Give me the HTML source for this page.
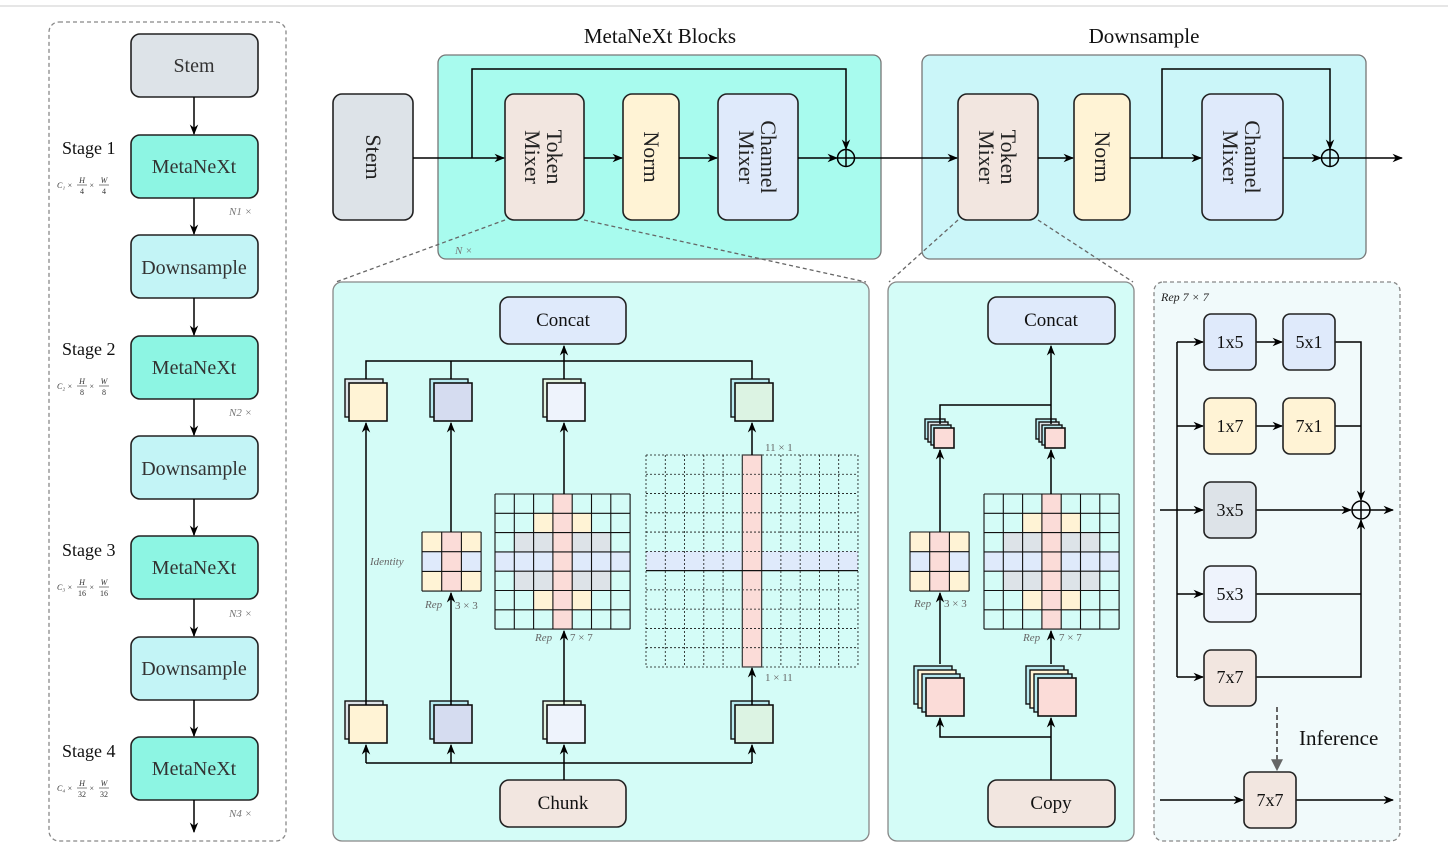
<!DOCTYPE html>
<html><head><meta charset="utf-8"><style>
html,body{margin:0;padding:0;background:#fff;}
svg{display:block;font-family:"Liberation Serif",serif;}
</style></head><body>
<svg id="s" width="1448" height="864" viewBox="0 0 1448 864" xmlns="http://www.w3.org/2000/svg">
<defs>
<marker id="a" viewBox="0 0 10 10" refX="9" refY="5" markerWidth="7" markerHeight="7" orient="auto-start-reverse"><path d="M0,1 L10,5 L0,9 L3,5 z" fill="#000"/></marker>
<marker id="g" viewBox="0 0 10 10" refX="9" refY="5" markerWidth="6" markerHeight="6" orient="auto"><path d="M0,0 L10,5 L0,10 z" fill="#666"/></marker>
</defs>
<line x1="0" y1="6" x2="1448" y2="6" stroke="#ccc"/>
<rect x="49" y="22" width="237" height="819" rx="10" stroke="#888" stroke-width="1.3" stroke-dasharray="4,3" fill="none"/>
<g stroke="#222" stroke-width="1.6">
<rect x="131" y="34" width="127" height="63" rx="9" fill="#dde3e8"/>
<rect x="131" y="135" width="127" height="63" rx="9" fill="#8df5e3"/>
<rect x="131" y="235" width="127" height="63" rx="9" fill="#c3f4f6"/>
<rect x="131" y="336" width="127" height="63" rx="9" fill="#8df5e3"/>
<rect x="131" y="436" width="127" height="63" rx="9" fill="#c3f4f6"/>
<rect x="131" y="536" width="127" height="63" rx="9" fill="#8df5e3"/>
<rect x="131" y="637" width="127" height="63" rx="9" fill="#c3f4f6"/>
<rect x="131" y="737" width="127" height="63" rx="9" fill="#8df5e3"/>
</g>
<g stroke="#000" stroke-width="1.5" marker-end="url(#a)">
<line x1="194" y1="97" x2="194" y2="134"/><line x1="194" y1="198" x2="194" y2="234"/>
<line x1="194" y1="298" x2="194" y2="335"/><line x1="194" y1="399" x2="194" y2="435"/>
<line x1="194" y1="499" x2="194" y2="535"/><line x1="194" y1="599" x2="194" y2="636"/>
<line x1="194" y1="700" x2="194" y2="736"/><line x1="194" y1="800" x2="194" y2="832"/>
</g>
<g font-size="20" text-anchor="middle" fill="#333">
<text x="194" y="72">Stem</text>
<text x="194" y="173">MetaNeXt</text><text x="194" y="274">Downsample</text>
<text x="194" y="374">MetaNeXt</text><text x="194" y="475">Downsample</text>
<text x="194" y="574">MetaNeXt</text><text x="194" y="675">Downsample</text>
<text x="194" y="775">MetaNeXt</text>
</g>
<g font-size="18" fill="#111">
<text x="62" y="154">Stage 1</text><text x="62" y="355">Stage 2</text>
<text x="62" y="556">Stage 3</text><text x="62" y="757">Stage 4</text>
</g>
<g id="formulas" font-size="8" fill="#333" font-style="italic"></g>
<g font-size="11" fill="#777" font-style="italic">
<text x="229" y="215">N1 ×</text><text x="229" y="416">N2 ×</text>
<text x="229" y="617">N3 ×</text><text x="229" y="817">N4 ×</text>
</g>

<text x="660" y="43" font-size="21" text-anchor="middle" fill="#111">MetaNeXt Blocks</text>
<text x="1144" y="43" font-size="21" text-anchor="middle" fill="#111">Downsample</text>
<rect x="438" y="55" width="443" height="204" rx="8" fill="#a8fbee" stroke="#777" stroke-width="1.3"/>
<rect x="922" y="55" width="444" height="204" rx="8" fill="#cbf6f9" stroke="#777" stroke-width="1.3"/>
<g stroke="#222" stroke-width="1.6">
<rect x="333" y="94" width="80" height="126" rx="9" fill="#dde3e8"/>
<rect x="505" y="94" width="79" height="126" rx="9" fill="#f2e6e0"/>
<rect x="623" y="94" width="56" height="126" rx="9" fill="#fff3d5"/>
<rect x="718" y="94" width="80" height="126" rx="9" fill="#dfeafb"/>
<rect x="958" y="94" width="80" height="126" rx="9" fill="#f2e6e0"/>
<rect x="1074" y="94" width="56" height="126" rx="9" fill="#fff3d5"/>
<rect x="1202" y="94" width="81" height="126" rx="9" fill="#dfeafb"/>
</g>
<g font-size="22" fill="#222" text-anchor="middle">
<text transform="translate(373,157) rotate(90)" y="7">Stem</text>
<text transform="translate(544,157) rotate(90)" y="-3">Token</text>
<text transform="translate(544,157) rotate(90)" y="19">Mixer</text>
<text transform="translate(651,157) rotate(90)" y="7">Norm</text>
<text transform="translate(758,157) rotate(90)" y="-3">Channel</text>
<text transform="translate(758,157) rotate(90)" y="19">Mixer</text>
<text transform="translate(998,157) rotate(90)" y="-3">Token</text>
<text transform="translate(998,157) rotate(90)" y="19">Mixer</text>
<text transform="translate(1102,157) rotate(90)" y="7">Norm</text>
<text transform="translate(1242,157) rotate(90)" y="-3">Channel</text>
<text transform="translate(1242,157) rotate(90)" y="19">Mixer</text>
</g>
<g stroke="#000" stroke-width="1.5" fill="none">
<line x1="413" y1="158" x2="504" y2="158" marker-end="url(#a)"/>
<polyline points="472,158 472,69 846,69 846,149" marker-end="url(#a)"/>
<line x1="584" y1="158" x2="622" y2="158" marker-end="url(#a)"/>
<line x1="679" y1="158" x2="717" y2="158" marker-end="url(#a)"/>
<line x1="798" y1="158" x2="837" y2="158" marker-end="url(#a)"/>
<circle cx="846" cy="158" r="8.5"/><line x1="837.5" y1="158" x2="854.5" y2="158"/><line x1="846" y1="149.5" x2="846" y2="166.5"/>
<line x1="855" y1="158" x2="957" y2="158" marker-end="url(#a)"/>
<line x1="1038" y1="158" x2="1073" y2="158" marker-end="url(#a)"/>
<line x1="1130" y1="158" x2="1201" y2="158" marker-end="url(#a)"/>
<polyline points="1162,158 1162,69 1330,69 1330,149" marker-end="url(#a)"/>
<line x1="1283" y1="158" x2="1321" y2="158" marker-end="url(#a)"/>
<circle cx="1330" cy="158" r="8.5"/><line x1="1321.5" y1="158" x2="1338.5" y2="158"/><line x1="1330" y1="149.5" x2="1330" y2="166.5"/>
<line x1="1339" y1="158" x2="1402" y2="158" marker-end="url(#a)"/>
</g>
<text x="455" y="254" font-size="11" fill="#777" font-style="italic">N ×</text>
<g stroke="#666" stroke-width="1.3" stroke-dasharray="4,3">
<line x1="505" y1="220" x2="336" y2="282"/><line x1="584" y1="220" x2="866" y2="282"/>
<line x1="958" y1="220" x2="889" y2="282"/><line x1="1038" y1="220" x2="1133" y2="282"/>
</g>

<rect x="333" y="282" width="536" height="559" rx="9" fill="#d4fcf7" stroke="#888" stroke-width="1.3"/>
<rect x="888" y="282" width="246" height="559" rx="9" fill="#d4fcf7" stroke="#888" stroke-width="1.3"/>
<rect x="1154" y="282" width="246" height="559" rx="9" fill="#f1fafb" stroke="#888" stroke-width="1.3" stroke-dasharray="4,3"/>
<g stroke="#222" stroke-width="1.6">
<rect x="500" y="297" width="126" height="47" rx="9" fill="#dfeafb"/>
<rect x="500" y="780" width="126" height="47" rx="9" fill="#f2e6e0"/>
<rect x="988" y="297" width="127" height="47" rx="9" fill="#dfeafb"/>
<rect x="988" y="780" width="127" height="47" rx="9" fill="#f2e6e0"/>
</g>
<g font-size="19" fill="#111" text-anchor="middle">
<text x="563" y="326">Concat</text><text x="563" y="809">Chunk</text>
<text x="1051" y="326">Concat</text><text x="1051" y="809">Copy</text>
</g>
<g id="dyn"></g>
<g stroke="#000" stroke-width="1.5" fill="none">
<polyline points="366,379 366,361 752,361 752,379"/><line x1="451" y1="361" x2="451" y2="379"/>
<line x1="564" y1="379" x2="564" y2="346" marker-end="url(#a)"/>
<line x1="366" y1="705" x2="366" y2="423" marker-end="url(#a)"/>
<line x1="451" y1="532" x2="451" y2="423" marker-end="url(#a)"/>
<line x1="451" y1="705" x2="451" y2="593" marker-end="url(#a)"/>
<line x1="564" y1="494" x2="564" y2="423" marker-end="url(#a)"/>
<line x1="564" y1="705" x2="564" y2="631" marker-end="url(#a)"/>
<line x1="752" y1="455" x2="752" y2="423" marker-end="url(#a)"/>
<line x1="752" y1="705" x2="752" y2="668" marker-end="url(#a)"/>
<line x1="564" y1="780" x2="564" y2="763"/>
<polyline points="366,763 752,763"/>
<line x1="366" y1="763" x2="366" y2="745" marker-end="url(#a)"/>
<line x1="451" y1="763" x2="451" y2="745" marker-end="url(#a)"/>
<line x1="564" y1="763" x2="564" y2="745" marker-end="url(#a)"/>
<line x1="752" y1="763" x2="752" y2="745" marker-end="url(#a)"/>
<polyline points="940,424 940,405 1051,405"/>
<line x1="1051" y1="424" x2="1051" y2="346" marker-end="url(#a)"/>
<line x1="940" y1="532" x2="940" y2="450" marker-end="url(#a)"/>
<line x1="1051" y1="494" x2="1051" y2="450" marker-end="url(#a)"/>
<line x1="940" y1="664" x2="940" y2="593" marker-end="url(#a)"/>
<line x1="1051" y1="664" x2="1051" y2="631" marker-end="url(#a)"/>
<line x1="1051" y1="780" x2="1051" y2="718" marker-end="url(#a)"/>
<polyline points="1051,737 940,737 940,718" marker-end="url(#a)"/>
<line x1="1160" y1="510" x2="1203" y2="510" marker-end="url(#a)"/>
<line x1="1177" y1="342" x2="1177" y2="677"/>
<line x1="1177" y1="342" x2="1203" y2="342" marker-end="url(#a)"/>
<line x1="1177" y1="426" x2="1203" y2="426" marker-end="url(#a)"/>
<line x1="1177" y1="594" x2="1203" y2="594" marker-end="url(#a)"/>
<line x1="1177" y1="677" x2="1203" y2="677" marker-end="url(#a)"/>
<line x1="1256" y1="342" x2="1282" y2="342" marker-end="url(#a)"/>
<line x1="1256" y1="426" x2="1282" y2="426" marker-end="url(#a)"/>
<polyline points="1335,342 1361,342 1361,500" marker-end="url(#a)"/>
<line x1="1335" y1="426" x2="1361" y2="426"/>
<line x1="1256" y1="510" x2="1351" y2="510" marker-end="url(#a)"/>
<polyline points="1256,677 1361,677 1361,520" marker-end="url(#a)"/>
<line x1="1256" y1="594" x2="1361" y2="594"/>
<circle cx="1361" cy="510" r="9"/><line x1="1352" y1="510" x2="1370" y2="510"/><line x1="1361" y1="501" x2="1361" y2="519"/>
<line x1="1370" y1="510" x2="1393" y2="510" marker-end="url(#a)"/>
<line x1="1160" y1="800" x2="1243" y2="800" marker-end="url(#a)"/>
<line x1="1296" y1="800" x2="1393" y2="800" marker-end="url(#a)"/>
</g>
<line x1="1277" y1="707" x2="1277" y2="770" stroke="#666" stroke-width="2" stroke-dasharray="5,3" marker-end="url(#g)"/>
<g stroke="#222" stroke-width="1.6">
<rect x="1204" y="314" width="52" height="56" rx="7" fill="#dfeafb"/>
<rect x="1283" y="314" width="52" height="56" rx="7" fill="#dfeafb"/>
<rect x="1204" y="398" width="52" height="56" rx="7" fill="#fff3d5"/>
<rect x="1283" y="398" width="52" height="56" rx="7" fill="#fff3d5"/>
<rect x="1204" y="482" width="52" height="56" rx="7" fill="#dde3e8"/>
<rect x="1204" y="566" width="52" height="56" rx="7" fill="#eef3fc"/>
<rect x="1204" y="650" width="52" height="56" rx="7" fill="#f2e6e0"/>
<rect x="1244" y="772" width="52" height="56" rx="7" fill="#f2e6e0"/>
</g>
<g font-size="18" fill="#111" text-anchor="middle">
<text x="1230" y="348">1x5</text><text x="1309" y="348">5x1</text>
<text x="1230" y="432">1x7</text><text x="1309" y="432">7x1</text>
<text x="1230" y="516">3x5</text><text x="1230" y="600">5x3</text>
<text x="1230" y="683">7x7</text><text x="1270" y="806">7x7</text>
</g>
<text x="1299" y="745" font-size="21" fill="#111">Inference</text>
<text x="1161" y="301" font-size="12" fill="#222" font-style="italic">Rep 7 × 7</text>
<g font-size="11" fill="#666" font-style="italic">
<text x="370" y="565">Identity</text>
<text x="425" y="608">Rep</text><text x="535" y="641">Rep</text>
<text x="914" y="607">Rep</text><text x="1023" y="641">Rep</text>
</g>
<g font-size="11" fill="#666">
<text x="455" y="609">3 × 3</text><text x="570" y="641">7 × 7</text>
<text x="944" y="607">3 × 3</text><text x="1059" y="641">7 × 7</text>
<text x="765" y="451">11 × 1</text><text x="765" y="681">1 × 11</text>
</g>
</svg>
<script>
var NS="http://www.w3.org/2000/svg",d=document.getElementById("dyn");
function el(t,a,p){var e=document.createElementNS(NS,t);for(var k in a)e.setAttribute(k,a[k]);(p||d).appendChild(e);return e;}
function stack(x,y,s,n,off,backs,front){
 for(var i=n;i>=1;i--)el("rect",{x:x-i*off,y:y-i*off,width:s,height:s,fill:backs[(i-1)%backs.length],stroke:"#111","stroke-width":1.4});
 el("rect",{x:x,y:y,width:s,height:s,fill:front,stroke:"#111","stroke-width":1.6});
}
stack(349,383,38,1,4,["#dde3e8"],"#fff3d5");
stack(434,383,38,1,4,["#b8eaf0"],"#d5dcf0");
stack(547,383,38,1,4,["#e3f3e0"],"#eef3fc");
stack(735,383,38,1,4,["#b8eaf0"],"#dcf3e3");
stack(349,705,38,1,4,["#dde3e8"],"#fff3d5");
stack(434,705,38,1,4,["#b8eaf0"],"#d5dcf0");
stack(547,705,38,1,4,["#e3f3e0"],"#eef3fc");
stack(735,705,38,1,4,["#b8eaf0"],"#dcf3e3");
stack(934,428,20,3,3,["#b8eaf0","#dde3e8","#b8eaf0"],"#fbdcd8");
stack(1045,428,20,3,3,["#b8eaf0","#dde3e8","#b8eaf0"],"#fbdcd8");
stack(926,678,38,3,4,["#b8eaf0","#fff3d5","#b8eaf0"],"#fbdcd8");
stack(1038,678,38,3,4,["#b8eaf0","#fff3d5","#b8eaf0"],"#fbdcd8");
var P="#fbdcd8",B="#dfeafb",Y="#fff3d5",G="#dde3e8";
function grid(x,y,n,c,colf,dash){
 for(var r=0;r<n;r++)for(var k=0;k<n;k++){var f=colf(r,k);if(f)el("rect",{x:x+k*c,y:y+r*c,width:c,height:c,fill:f});}
 for(var i=0;i<=n;i++){
  var a={stroke:"#111","stroke-width":dash?0.8:1.1};if(dash)a["stroke-dasharray"]="2,2";
  el("line",Object.assign({x1:x+i*c,y1:y,x2:x+i*c,y2:y+n*c},a));
  el("line",Object.assign({x1:x,y1:y+i*c,x2:x+n*c,y2:y+i*c},a));
 }
}
function g3(r,k){if(k==1)return P;if(r==1)return B;return Y;}
function g7(r,k){if(k==3)return P;if(r==3)return B;if((r==2||r==4)&&k>=1&&k<=5)return G;if((r==1||r==5)&&(k==2||k==4))return Y;return null;}
grid(422,532,3,19.7,g3,false);grid(910,532,3,19.7,g3,false);
grid(495,494,7,19.3,g7,false);grid(984,494,7,19.3,g7,false);
grid(646,455,11,19.27,function(r,k){if(k==5)return P;if(r==5)return B;return null;},true);
el("rect",{x:646+5*19.27,y:455,width:19.27,height:11*19.27,fill:"none",stroke:"#444","stroke-width":1.3});
el("line",{x1:646,y1:455+6*19.27,x2:858,y2:455+6*19.27,stroke:"#111","stroke-width":1.3});
var f=document.getElementById("formulas");
[[188,"4","4","1"],[389,"8","8","2"],[590,"16","16","3"],[791,"32","32","4"]].forEach(function(v){
 var y=v[0];
 el("text",{x:57,y:y},f).textContent="C"+"₁₂₃₄"[+v[3]-1]+" ×";
 el("text",{x:82,y:y-5,"text-anchor":"middle"},f).textContent="H";
 el("line",{x1:77,y1:y-3,x2:87,y2:y-3,stroke:"#333","stroke-width":0.6},f);
 el("text",{x:82,y:y+6,"text-anchor":"middle","font-style":"normal"},f).textContent=v[1];
 el("text",{x:89,y:y},f).textContent="×";
 el("text",{x:104,y:y-5,"text-anchor":"middle"},f).textContent="W";
 el("line",{x1:99,y1:y-3,x2:109,y2:y-3,stroke:"#333","stroke-width":0.6},f);
 el("text",{x:104,y:y+6,"text-anchor":"middle","font-style":"normal"},f).textContent=v[2];
});
</script>
</body></html>
